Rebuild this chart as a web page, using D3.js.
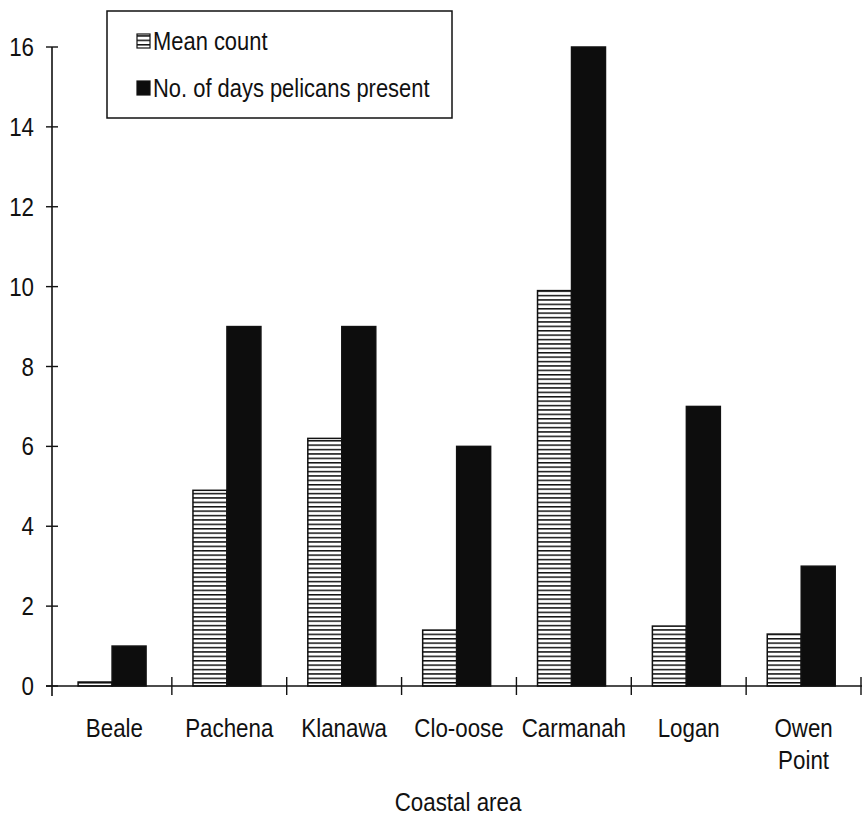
<!DOCTYPE html>
<html>
<head>
<meta charset="utf-8">
<script src="https://cdn.jsdelivr.net/npm/d3@7/dist/d3.min.js"></script>
<style>
  html, body { margin: 0; padding: 0; background: #fff; }
  svg text { font-family: "Liberation Sans", Arial, sans-serif; fill: #111; }
</style>
</head>
<body>
<svg id="chart" width="865" height="816"></svg>
<script>
const categories = ["Beale", "Pachena", "Klanawa", "Clo-oose", "Carmanah", "Logan", "Owen Point"];
const meanCount = [0.1, 4.9, 6.2, 1.4, 9.9, 1.5, 1.3];
const daysPresent = [1, 9, 9, 6, 16, 7, 3];
const seriesNames = ["Mean count", "No. of days pelicans present"];
const yTicks = [0, 2, 4, 6, 8, 10, 12, 14, 16];
const xTitle = "Coastal area";

const NARROW = 0.86;
const svg = d3.select("#chart");
const defs = svg.append("defs");
const pat = defs.append("pattern")
  .attr("id", "hstripe").attr("patternUnits", "userSpaceOnUse")
  .attr("width", 8).attr("height", 4.4);
pat.append("rect").attr("width", 8).attr("height", 4.4).attr("fill", "#fff");
pat.append("rect").attr("y", 0).attr("width", 8).attr("height", 1.5).attr("fill", "#111");

const fills = ["url(#hstripe)", "#0d0d0d"];

function narrowText(parent, x, y, str, size, anchor) {
  return parent.append("text")
    .attr("transform", `translate(${x},${y}) scale(${NARROW},1)`)
    .attr("text-anchor", anchor || "start")
    .attr("font-size", size)
    .text(str);
}

const x0 = d3.scaleBand().domain(categories).range([57, 861]).padding(0);
const x1 = d3.scaleBand().domain(seriesNames).range([0, x0.bandwidth()])
  .paddingInner(0).paddingOuter(0.69).align(0.45);
const y = d3.scaleLinear().domain([0, 16]).range([686, 47]);

const data = categories.map((c, i) => ({ cat: c, vals: [meanCount[i], daysPresent[i]] }));

// bars
const g = svg.append("g");
data.forEach(d => {
  d.vals.forEach((v, j) => {
    g.append("rect")
      .attr("x", x0(d.cat) + x1(seriesNames[j]))
      .attr("y", y(v))
      .attr("width", x1.bandwidth())
      .attr("height", y(0) - y(v))
      .attr("fill", fills[j])
      .attr("stroke", "#111")
      .attr("stroke-width", 1.5);
  });
});

// y axis
const yAxisG = svg.append("g");
yAxisG.append("line").attr("x1", 52).attr("x2", 52).attr("y1", y(16)).attr("y2", y(0) + 10)
  .attr("stroke", "#111").attr("stroke-width", 1.6);
yTicks.forEach(t => {
  yAxisG.append("line").attr("x1", 46).attr("x2", 58).attr("y1", y(t)).attr("y2", y(t))
    .attr("stroke", "#111").attr("stroke-width", 1.4);
  narrowText(yAxisG, 34, y(t) + 9, String(t), 26, "end");
});

// x axis
const xAxisG = svg.append("g");
xAxisG.append("line").attr("x1", 46).attr("x2", 862).attr("y1", y(0)).attr("y2", y(0))
  .attr("stroke", "#111").attr("stroke-width", 1.6);
categories.forEach(c => {
  const xe = x0(c) + x0.bandwidth();
  xAxisG.append("line").attr("x1", xe).attr("x2", xe).attr("y1", y(0) - 9).attr("y2", y(0) + 9)
    .attr("stroke", "#111").attr("stroke-width", 1.4);
  const cx = x0(c) + x0.bandwidth() / 2;
  c.split(" ").forEach((w, k) => {
    narrowText(xAxisG, cx, 737 + k * 32, w, 26, "middle");
  });
});

narrowText(svg, 458, 811, xTitle, 26, "middle");

// legend
const lg = svg.append("g");
lg.append("rect").attr("x", 107).attr("y", 11).attr("width", 345).attr("height", 107)
  .attr("fill", "#fff").attr("stroke", "#111").attr("stroke-width", 1.5);
seriesNames.forEach((s, j) => {
  const cy = 41 + j * 47;
  lg.append("rect").attr("x", 137).attr("y", cy - 7).attr("width", 13).attr("height", 14)
    .attr("fill", fills[j]).attr("stroke", "#111").attr("stroke-width", 1.2);
  narrowText(lg, 153, cy + 9, s, 25.5, "start");
});
</script>
</body>
</html>
